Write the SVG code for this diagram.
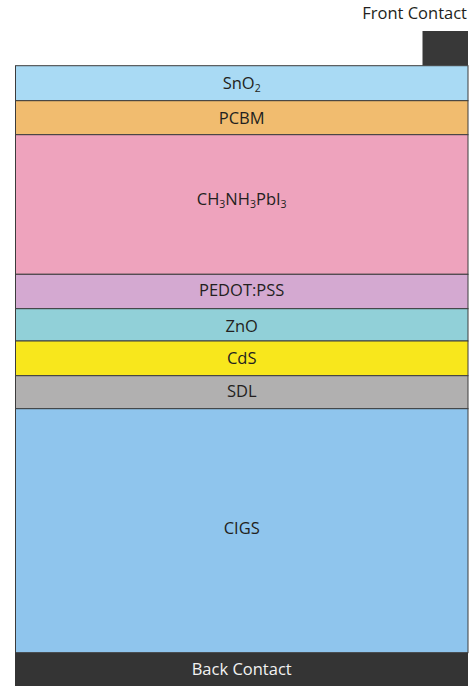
<svg xmlns="http://www.w3.org/2000/svg" width="474" height="686" viewBox="0 0 474 686">
<style>
.layer{stroke:#3c3c3c;stroke-width:1}
.lbl{font-family:"Open Sans","Liberation Sans",sans-serif;font-size:16.5px;fill:#231f20;text-anchor:middle}
.sub{font-size:10.5px}
.light{fill:#f2f2f2}
</style>
<rect width="474" height="686" fill="#ffffff"/>
<g id="front-contact">
<rect x="422.5" y="31" width="45.5" height="34.7" fill="#383838"/>
<text class="lbl" x="467" y="19" style="text-anchor:end">Front Contact</text>
</g>
<g id="sno2">
<rect class="layer" x="15.5" y="65.7" width="452.5" height="35" fill="#a9daf4"/>
<text class="lbl" x="241.7" y="89">SnO<tspan class="sub" dy="3">2</tspan></text>
</g>
<g id="pcbm">
<rect class="layer" x="15.5" y="100.7" width="452.5" height="34" fill="#f1bc6f"/>
<text class="lbl" x="241.7" y="124">PCBM</text>
</g>
<g id="perovskite">
<rect class="layer" x="15.5" y="134.7" width="452.5" height="139.6" fill="#eea3bd"/>
<text class="lbl" x="241.7" y="205">CH<tspan class="sub" dy="3">3</tspan><tspan dy="-3">NH</tspan><tspan class="sub" dy="3">3</tspan><tspan dy="-3">PbI</tspan><tspan class="sub" dy="3">3</tspan></text>
</g>
<g id="pedot">
<rect class="layer" x="15.5" y="274.3" width="452.5" height="34.4" fill="#d4a9d1"/>
<text class="lbl" x="241.7" y="296">PEDOT:PSS</text>
</g>
<g id="zno">
<rect class="layer" x="15.5" y="308.7" width="452.5" height="32.3" fill="#91d0d8"/>
<text class="lbl" x="241.7" y="331.5">ZnO</text>
</g>
<g id="cds">
<rect class="layer" x="15.5" y="341" width="452.5" height="34.7" fill="#f8e71c"/>
<text class="lbl" x="241.7" y="364">CdS</text>
</g>
<g id="sdl">
<rect class="layer" x="15.5" y="375.7" width="452.5" height="33" fill="#b1b0b0"/>
<text class="lbl" x="241.7" y="396.7">SDL</text>
</g>
<g id="cigs">
<rect class="layer" x="15.5" y="408.7" width="452.5" height="244" fill="#8fc5ed"/>
<text class="lbl" x="241.7" y="534.3">CIGS</text>
</g>
<g id="back-contact">
<rect x="15" y="652.7" width="453" height="33.3" fill="#343434"/>
<text class="lbl light" x="241.7" y="675">Back Contact</text>
</g>
<g id="connectors"></g>
</svg>
